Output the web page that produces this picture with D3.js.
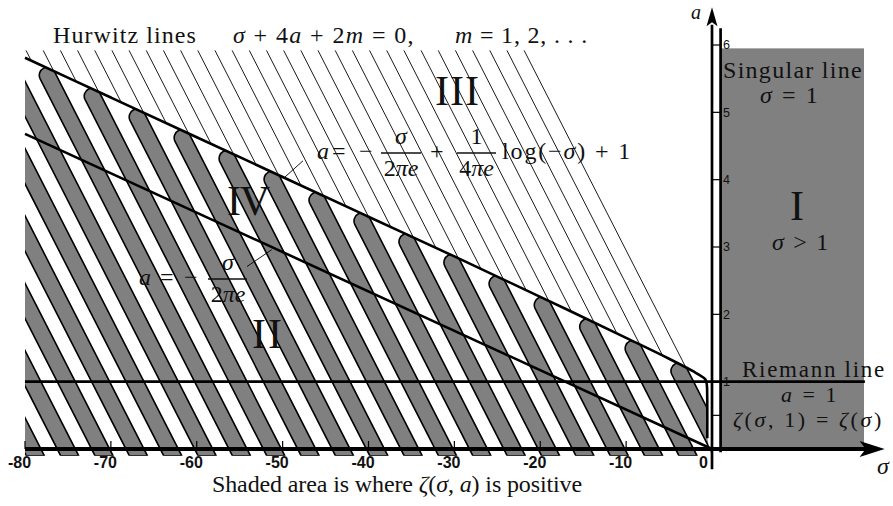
<!DOCTYPE html>
<html><head><meta charset="utf-8">
<script src="https://cdn.jsdelivr.net/npm/d3@7"></script>
<style>
html,body{margin:0;padding:0;background:#fff;}
svg{display:block;}
text{font-family:"Liberation Serif","Times New Roman",serif;fill:#111;}
</style></head><body>
<svg id="chart" width="893" height="506"></svg>
<script>
// ---------- data ----------
const sigmaTicks = [-80,-70,-60,-50,-40,-30,-20,-10,0];
const aTicks = [1,2,3,4,5,6];
const aMinorTicks = [0.5];
// sigma-intercepts (at a = 0) of the drawn Hurwitz lines (slope da/dsigma = -1/4)
const hurwitzIntercepts = [1.8,-0.2,-2.2,-4.2,-6.2,-8.2,-10.2,-12.2,-14.2,-16.2,-18.2,-20.2,-22.2,-24.2,-26.2,
  -28.2,-30.2,-32.2,-34.2,-36.2,-38.2,-40.2,-42.2,-44.2,-46.2,-48.2,-50.2,-52.2,-54.2,-56.2];
const hurwitzTopA = 5.92;
// centres (sigma at a = 0) of the shaded (positive) bands
const stripeCenters = [0.8,-3.2,-7.2,-11.2,-15.2,-19.2,-23.2,-27.2,-31.2,-35.2,-39.2,-43.2,-47.2,-51.2,-55.2,
  -59.2,-63.2,-67.2,-71.2,-75.2,-79.2];
const stripeHalfWidth = 1.05;
// upper boundary curve  a = -s/(2 pi e) + log(-s)/(4 pi e) + 1
const upperCurve = [[-80,5.81],[-70,5.22],[-60,4.63],[-50,4.04],[-40,3.45],[-30,2.86],[-20,2.26],[-10,1.65],
  [-5,1.34],[-2,1.14],[-1.1,1.07],[-0.75,1.03],[-0.6,0.95],[-0.56,0.8],[-0.55,0.16]];
// lower boundary line  a = -s/(2 pi e)
const lowerCurve = [[-80,4.68],[0,0]];
const riemannA = 1;
const riemannSigma = [-80,17.8];
const singularSigma = 1;
const shadedRegionSigma = [1,17.7];
const shadedRegionA = [-0.02,5.95];

// ---------- scales ----------
const svg = d3.select('#chart');
const x = d3.scaleLinear().domain([-80,0]).range([25,712]);
const y = d3.scaleLinear().domain([0,6]).range([449,45]);
const gray = '#808080';

const lineGen = d3.line().x(d=>x(d[0])).y(d=>y(d[1])).curve(d3.curveCatmullRom.alpha(0.5));

function U(s){
  const p = upperCurve;
  if (s <= p[0][0]) return p[0][1];
  for (let i=0;i<p.length-1;i++){
    if (s>=p[i][0] && s<=p[i+1][0]){
      const t=(s-p[i][0])/(p[i+1][0]-p[i][0]);
      return p[i][1]+t*(p[i+1][1]-p[i][1]);
    }
  }
  return p[p.length-1][1];
}
// first intersection of line sigma = c - 4a with the upper curve (scanning from the left)
function hitUpper(c){
  const f = s => U(s) - (c - s)/4;
  let lo = -80;
  if (f(lo) > 0) return null;
  const end = Math.min(c, -0.55);
  let hi = null;
  for (let s=lo; s<=end; s+=0.2){ if (f(s) > 0){ hi = s; break; } lo = s; }
  if (hi===null) return null;
  for (let k=0;k<40;k++){ const m=(lo+hi)/2; if (f(m)>0) hi=m; else lo=m; }
  const s=(lo+hi)/2;
  return [s,(c-s)/4];
}

// ---------- shaded half-plane sigma > 1 ----------
svg.append('rect')
  .attr('x', x(shadedRegionSigma[0])).attr('y', y(shadedRegionA[1]))
  .attr('width', x(shadedRegionSigma[1])-x(shadedRegionSigma[0]))
  .attr('height', y(shadedRegionA[0])-y(shadedRegionA[1]))
  .attr('fill', gray);

// ---------- clip: region under the upper curve ----------
const defs = svg.append('defs');
defs.append('clipPath').attr('id','under').append('path')
  .attr('d', lineGen(upperCurve) + `L${x(-0.3)},${y(0)}L${x(0)},${y(-0.1)}L${x(-80)},${y(-0.1)}Z`);

// ---------- shaded bands ----------
const ux = 4*(x(1)-x(0)), uy = y(0)-y(1);
const ulen = Math.hypot(ux,uy);
const u = [ux/ulen, uy/ulen];
const r = (x(1)-x(0))*stripeHalfWidth*u[1];
const gap = 2.5;
const gStripes = svg.append('g').attr('clip-path','url(#under)');
stripeCenters.forEach(c=>{
  const bl = [x(c-stripeHalfWidth+0.4), y(-0.1)];
  const br = [x(c+stripeHalfWidth+0.4), y(-0.1)];
  const hit = hitUpper(c);
  let d;
  if (hit){
    const P = [x(hit[0]), y(hit[1])];
    const C = [P[0]+u[0]*(r+gap), P[1]+u[1]*(r+gap)];
    const L = [C[0]-u[1]*r, C[1]+u[0]*r];
    const R = [C[0]+u[1]*r, C[1]-u[0]*r];
    d = `M${bl}L${L}A${r},${r} 0 0 1 ${R}L${br}Z`;
  } else {
    const tl = [x(c-stripeHalfWidth-28), y(7)];
    const tr = [x(c+stripeHalfWidth-28), y(7)];
    d = `M${bl}L${tl}L${tr}L${br}Z`;
  }
  gStripes.append('path').attr('d', d).attr('fill', gray)
    .attr('stroke','#000').attr('stroke-width',1.6).attr('stroke-linejoin','round');
});

// ---------- thin Hurwitz lines (above the upper curve) ----------
hurwitzIntercepts.forEach(c=>{
  const hit = hitUpper(c);
  if (!hit) return;
  const s0 = c - 4*hurwitzTopA;
  svg.append('line')
    .attr('x1', x(s0)).attr('y1', y(hurwitzTopA))
    .attr('x2', x(hit[0])).attr('y2', y(hit[1]))
    .attr('stroke','#000').attr('stroke-width',0.9);
});

// ---------- curves ----------
svg.append('path').attr('d', lineGen(upperCurve)).attr('fill','none')
  .attr('stroke','#000').attr('stroke-width',2.6).attr('stroke-linejoin','round');
svg.append('path').attr('d', d3.line().x(d=>x(d[0])).y(d=>y(d[1]))(lowerCurve)).attr('fill','none')
  .attr('stroke','#000').attr('stroke-width',2.6);
svg.append('line').attr('x1',x(riemannSigma[0])).attr('x2',x(riemannSigma[1]))
  .attr('y1',y(riemannA)).attr('y2',y(riemannA)).attr('stroke','#000').attr('stroke-width',2.6);

// leader lines
svg.append('line').attr('x1',x(-49.72)).attr('y1',y(4.04)).attr('x2',x(-47.63)).attr('y2',y(4.28))
  .attr('stroke','#000').attr('stroke-width',0.9);
svg.append('line').attr('x1',x(-54.15)).attr('y1',y(2.71)).attr('x2',x(-51.27)).attr('y2',y(2.96))
  .attr('stroke','#000').attr('stroke-width',0.9);

// ---------- axes ----------
svg.append('line').attr('x1',x(-80)).attr('x2',x(18)).attr('y1',y(0)).attr('y2',y(0))
  .attr('stroke','#000').attr('stroke-width',4);
const tipX = x(20.1), ay0 = y(0);
svg.append('path').attr('d',`M${tipX},${ay0}L${tipX-25},${ay0-8}L${tipX-19},${ay0}L${tipX-25},${ay0+8}Z`).attr('fill','#000');
svg.append('line').attr('x1',x(0)).attr('x2',x(0)).attr('y1',y(-0.3)).attr('y2',y(6.3))
  .attr('stroke','#000').attr('stroke-width',2.7);
const tipY = y(6.56), ax0 = x(0);
svg.append('path').attr('d',`M${ax0},${tipY}L${ax0-5.5},${tipY+19}L${ax0},${tipY+15}L${ax0+5.5},${tipY+19}Z`).attr('fill','#000');
svg.append('line').attr('x1',x(singularSigma)).attr('x2',x(singularSigma)).attr('y1',y(-0.05)).attr('y2',y(6.25))
  .attr('stroke','#000').attr('stroke-width',2.7);

sigmaTicks.filter(t=>t!==0).forEach(t=>{
  svg.append('line').attr('x1',x(t)).attr('x2',x(t)).attr('y1',y(0)).attr('y2',y(0)-8)
    .attr('stroke','#000').attr('stroke-width',1.2);
});
sigmaTicks.forEach(t=>{
  svg.append('text').attr('x', t===0 ? x(t)-8.5 : x(t)-5.5).attr('y',468)
    .attr('text-anchor','middle').attr('font-size',16).attr('font-weight','bold')
    .style('font-family','"Liberation Sans",Arial,sans-serif').text(String(t));
});
aTicks.concat(aMinorTicks).forEach(t=>{
  svg.append('line').attr('x1',x(0)).attr('x2',x(singularSigma)).attr('y1',y(t)).attr('y2',y(t))
    .attr('stroke','#000').attr('stroke-width',1.2);
});
aTicks.forEach(t=>{
  svg.append('text').attr('x',x(singularSigma)+2.5).attr('y',y(t)+4.3)
    .attr('font-size',12.5).style('font-family','"Liberation Sans",Arial,sans-serif').text(String(t));
});

// ---------- text ----------
function mtext(xp, yp, parts, size, opts={}){
  const t = svg.append('text').attr('x',xp).attr('y',yp).attr('font-size',size)
    .attr('text-anchor', opts.anchor || 'start');
  parts.forEach(p=>t.append('tspan').text(p[0]).attr('font-style', p[1] ? 'italic' : 'normal'));
  if (opts.len){
    const w = t.node().getComputedTextLength();
    const n = parts.reduce((s,p)=>s+[...p[0]].length,0);
    if (n > 0) t.style('letter-spacing', ((opts.len - w)/n) + 'px');
  }
  return t;
}
const FS = 24;
mtext(53, 43, [['Hurwitz lines',0]], FS, {len:144});
mtext(233, 43, [['σ',1],[' + 4',0],['a',1],[' + 2',0],['m',1],[' = 0,',0]], FS, {len:182});
mtext(455, 43, [['m',1],[' = 1, 2, . . .',0]], FS, {len:133});

mtext(435, 105, [['III',0]], 42, {len:45});
mtext(227, 215, [['IV',0]], 42, {len:42});
mtext(252, 348, [['II',0]], 42, {len:32});
mtext(797, 220, [['I',0]], 42, {anchor:'middle'});

// upper formula
mtext(317, 159, [['a',1]], FS);
mtext(332, 159, [['=',0]], FS);
mtext(359, 159, [['−',0]], FS);
svg.append('line').attr('x1',381).attr('x2',421).attr('y1',153).attr('y2',153).attr('stroke','#111').attr('stroke-width',1.3);
mtext(401, 144, [['σ',1]], FS, {anchor:'middle'});
mtext(401, 176, [['2',0],['πe',1]], FS, {anchor:'middle'});
mtext(430, 159, [['+',0]], FS);
svg.append('line').attr('x1',457).attr('x2',496).attr('y1',153).attr('y2',153).attr('stroke','#111').attr('stroke-width',1.3);
mtext(476.5, 144, [['1',0]], FS, {anchor:'middle'});
mtext(476.5, 176, [['4',0],['πe',1]], FS, {anchor:'middle'});
mtext(502, 159, [['log(−',0],['σ',1],[') + 1',0]], FS, {len:130});

// lower formula
mtext(139, 285, [['a',1]], FS);
mtext(160, 285, [['=',0]], FS);
mtext(184, 285, [['−',0]], FS);
svg.append('line').attr('x1',208).attr('x2',247).attr('y1',279).attr('y2',279).attr('stroke','#111').attr('stroke-width',1.3);
mtext(228, 270, [['σ',1]], FS, {anchor:'middle'});
mtext(228, 302, [['2',0],['πe',1]], FS, {anchor:'middle'});

// right side annotations
mtext(723, 78, [['Singular line',0]], FS, {len:140});
mtext(760, 103, [['σ',1],[' = 1',0]], FS, {len:60});
mtext(772, 250, [['σ',1],[' > 1',0]], FS, {len:58});
mtext(742, 377, [['Riemann line',0]], 23, {len:144});
mtext(781, 402, [['a',1],[' = 1',0]], 22, {len:58});
mtext(733, 427, [['ζ',1],['(',0],['σ',1],[', 1) = ',0],['ζ',1],['(',0],['σ',1],[')',0]], 22, {len:151});

// axis names
mtext(877, 474, [['σ',1]], FS);
mtext(691, 19, [['a',1]], 20);

// caption
mtext(212, 492, [['Shaded area is where ',0],['ζ',1],['(',0],['σ',1],[', ',0],['a',1],[') is positive',0]], FS, {len:370});
</script>
</body></html>
